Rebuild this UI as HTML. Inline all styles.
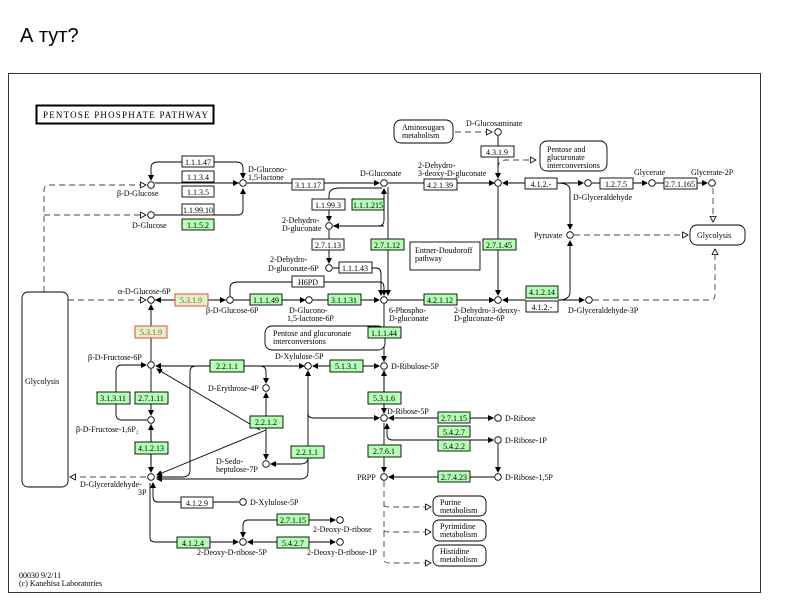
<!DOCTYPE html>
<html><head><meta charset="utf-8"><style>
html,body{margin:0;padding:0;background:#fff;width:800px;height:600px;overflow:hidden}
svg text{font-family:"Liberation Serif",serif;font-size:8px;fill:#000}
</style></head><body>
<svg width="800" height="600" viewBox="0 0 800 600" xmlns="http://www.w3.org/2000/svg">
<defs>
<marker id="a" markerWidth="6" markerHeight="6" refX="5" refY="3" orient="auto" markerUnits="userSpaceOnUse"><path d="M0,0L6,3L0,6z" fill="#000"/></marker>
<marker id="o" markerWidth="7" markerHeight="7" refX="6" refY="3.5" orient="auto" markerUnits="userSpaceOnUse"><path d="M0.5,0.5L6,3.5L0.5,6.5z" fill="#fff" stroke="#000" stroke-width="0.8"/></marker>
</defs>
<text x="20" y="42" style="font-family:'Liberation Sans',sans-serif;font-size:20px">А тут?</text>
<rect x="8.5" y="73.5" width="752" height="519" fill="none" stroke="#333" stroke-width="1"/>
<rect x="36.5" y="105.5" width="177" height="18" fill="#fff" stroke="#000" stroke-width="2"/>
<text x="43" y="118" style="font-size:9px;letter-spacing:1.2px">PENTOSE PHOSPHATE PATHWAY</text>

<g fill="none" stroke="#000" stroke-width="0.9">
<g stroke-dasharray="6,4" stroke="#444">
<path d="M44,292V190Q44,185 50,185H146" marker-end="url(#o)"/>
<path d="M44,215Q44,215 50,215H146" marker-end="url(#o)"/>
<path d="M68,300H146" marker-end="url(#o)"/>
<path d="M146,477H70" marker-end="url(#o)"/>
<path d="M455,132H492" marker-end="url(#o)"/>
<path d="M498,178V168Q498,160 506,160H536" marker-end="url(#o)"/>
<path d="M574,235H688" marker-end="url(#o)"/>
<path d="M713,188V222" marker-end="url(#o)"/>
<path d="M593,300H710Q715,300 715,295V249" marker-end="url(#o)"/>
<path d="M384,481V560Q384,563 390,563H431" marker-end="url(#o)"/>
<path d="M384,505Q384,507 390,507H431" marker-end="url(#o)"/>
<path d="M384,530Q384,532 390,532H431" marker-end="url(#o)"/>
</g>
<path d="M239,183H155" />
<path d="M214,183H238" marker-end="url(#a)"/>
<path d="M182,162H158Q151,162 151,168V180" marker-end="url(#a)"/>
<path d="M214,162H236Q243,162 243,168V178" marker-end="url(#a)"/>
<path d="M155,215H238Q243,215 243,210V189" marker-end="url(#a)"/>
<path d="M247,183H379" marker-end="url(#a)"/>
<path d="M388,183H494" marker-end="url(#a)"/>
<path d="M333,226H378Q384,226 384,220V189" marker-end="url(#a)"/>
<path d="M384,226H334" marker-end="url(#a)"/>
<path d="M329,200V195Q329,188 340,188H382" />
<path d="M329,200V221" marker-end="url(#a)"/>
<path d="M329,230V263" marker-end="url(#a)"/>
<path d="M333,268H376Q381,268 381,274V295" marker-end="url(#a)"/>
<path d="M230,296V288Q230,282 238,282H380Q384,282 384,288V295" marker-end="url(#a)"/>
<path d="M388,187V295" marker-end="url(#a)"/>
<path d="M155,300H226" />
<path d="M210,300H225" marker-end="url(#a)"/>
<path d="M175,300H156" marker-end="url(#a)"/>
<path d="M234,300H305" marker-end="url(#a)"/>
<path d="M313,300H379" marker-end="url(#a)"/>
<path d="M388,300H494" marker-end="url(#a)"/>
<path d="M384,304V361" marker-end="url(#a)"/>
<path d="M498,136V178" marker-end="url(#a)"/>
<path d="M498,187V295" marker-end="url(#a)"/>
<path d="M525,183H503" marker-end="url(#a)"/>
<path d="M557,183H583" marker-end="url(#a)"/>
<path d="M557,183Q570,183 570,190V229" marker-end="url(#a)"/>
<path d="M592,183H647" marker-end="url(#a)"/>
<path d="M656,183H707" marker-end="url(#a)"/>
<path d="M526,300H503" marker-end="url(#a)"/>
<path d="M558,300H584" marker-end="url(#a)"/>
<path d="M558,300Q570,300 570,292V241" marker-end="url(#a)"/>
<path d="M151,361V305" marker-end="url(#a)"/>
<path d="M151,369V415" marker-end="url(#a)"/>
<path d="M151,472V425" marker-end="url(#a)"/>
<path d="M151,424V472" marker-end="url(#a)"/>
<path d="M147,420H122Q116,420 116,414V371Q116,365 122,365H146" marker-end="url(#a)"/>
<path d="M304,366H156" marker-end="url(#a)"/>
<path d="M244,366H304" marker-end="url(#a)"/>
<path d="M196,366Q190,366 190,372V470Q190,477 182,477H157" marker-end="url(#a)"/>
<path d="M244,366H260Q266,366 266,372V383" marker-end="url(#a)"/>
<path d="M266,410V393" marker-end="url(#a)"/>
<path d="M266,410V459" marker-end="url(#a)"/>
<path d="M260,430L157,369" marker-end="url(#a)"/>
<path d="M266,430L157,475" marker-end="url(#a)"/>
<path d="M330,366H313" marker-end="url(#a)"/>
<path d="M362,366H379" marker-end="url(#a)"/>
<path d="M384,370V413" marker-end="url(#a)"/>
<path d="M384,413V371" marker-end="url(#a)"/>
<path d="M308,410V371" marker-end="url(#a)"/>
<path d="M308,410V458Q308,464 300,464H271" marker-end="url(#a)"/>
<path d="M308,410V414Q308,418 314,418H379" marker-end="url(#a)"/>
<path d="M308,450V472Q308,479 300,479H157" marker-end="url(#a)"/>
<path d="M384,423V472" marker-end="url(#a)"/>
<path d="M438,418H389" marker-end="url(#a)"/>
<path d="M470,418H493" marker-end="url(#a)"/>
<path d="M493,440H392Q387,440 387,434V424" marker-end="url(#a)"/>
<path d="M460,440H493" marker-end="url(#a)"/>
<path d="M498,444V472" marker-end="url(#a)"/>
<path d="M494,477H389" marker-end="url(#a)"/>
<path d="M181,502H157Q153,502 153,496V483" marker-end="url(#a)"/>
<path d="M213,502H239"/>
<path d="M150,483V538Q150,542 156,542H238" marker-end="url(#a)"/>
<path d="M277,520H248Q243,520 243,526V537" marker-end="url(#a)"/>
<path d="M309,520H335" marker-end="url(#a)"/>
<path d="M277,542H248" marker-end="url(#a)"/>
<path d="M309,542H335" marker-end="url(#a)"/>
</g>

<g fill="#fff" stroke="#000" stroke-width="0.9">
<circle cx="151" cy="185" r="3.3"/><circle cx="151" cy="215" r="3.3"/><circle cx="243" cy="183" r="3.3"/>
<circle cx="384" cy="183" r="3.3"/><circle cx="329" cy="226" r="3.3"/><circle cx="329" cy="268" r="3.3"/>
<circle cx="151" cy="300" r="3.3"/><circle cx="230" cy="300" r="3.3"/><circle cx="309" cy="300" r="3.3"/>
<circle cx="384" cy="300" r="3.3"/><circle cx="498" cy="132" r="3.3"/><circle cx="498" cy="183" r="3.3"/>
<circle cx="588" cy="183" r="3.3"/><circle cx="652" cy="183" r="3.3"/><circle cx="712" cy="183" r="3.3"/>
<circle cx="570" cy="235" r="3.3"/><circle cx="498" cy="300" r="3.3"/><circle cx="589" cy="300" r="3.3"/>
<circle cx="151" cy="365" r="3.3"/><circle cx="151" cy="420" r="3.3"/><circle cx="151" cy="477" r="3.3"/>
<circle cx="308" cy="366" r="3.3"/><circle cx="266" cy="388" r="3.3"/><circle cx="266" cy="464" r="3.3"/>
<circle cx="384" cy="366" r="3.3"/><circle cx="384" cy="418" r="3.3"/><circle cx="384" cy="477" r="3.3"/>
<circle cx="498" cy="418" r="3.3"/><circle cx="498" cy="440" r="3.3"/><circle cx="498" cy="477" r="3.3"/>
<circle cx="243" cy="502" r="3.3"/><circle cx="340" cy="520" r="3.3"/><circle cx="243" cy="542" r="3.3"/><circle cx="340" cy="542" r="3.3"/>
</g>

<g fill="#fff" stroke="#000" stroke-width="0.9">
<rect x="22" y="292" width="46" height="195" rx="6"/>
<rect x="690" y="225" width="55" height="20" rx="7"/>
<rect x="394" y="120" width="59" height="23" rx="7"/>
<rect x="540" y="141" width="67" height="30" rx="7"/>
<rect x="410" y="242" width="70" height="28"/>
<rect x="265" y="326" width="120" height="24" rx="7"/>
<rect x="433" y="496" width="53" height="20" rx="6"/>
<rect x="433" y="520" width="53" height="21" rx="6"/>
<rect x="433" y="545" width="53" height="21" rx="6"/>
</g>

<g stroke-width="0.9">
<g fill="#fff" stroke="#000">
<rect x="182" y="156" width="32" height="11"/><rect x="182" y="171" width="32" height="11"/><rect x="182" y="186" width="32" height="11"/>
<rect x="182" y="204" width="32" height="11"/><rect x="292" y="179" width="32" height="11"/><rect x="312" y="199" width="33" height="11"/>
<rect x="312" y="239" width="32" height="11"/><rect x="339" y="262" width="33" height="11"/><rect x="292" y="276" width="32" height="11"/>
<rect x="424" y="179" width="33" height="11"/><rect x="481" y="146" width="33" height="11"/><rect x="525" y="178" width="32" height="11"/>
<rect x="600" y="178" width="33" height="11"/><rect x="664" y="178" width="33" height="11"/><rect x="526" y="301" width="32" height="11"/>
<rect x="181" y="497" width="32" height="11"/>
</g>
<g fill="#b3ffb3" stroke="#000">
<rect x="182" y="219" width="32" height="11"/><rect x="352" y="199" width="32" height="11"/><rect x="371" y="239" width="33" height="11"/>
<rect x="250" y="294" width="32" height="11"/><rect x="328" y="294" width="33" height="11"/><rect x="368" y="327" width="33" height="11"/>
<rect x="483" y="239" width="33" height="11"/><rect x="424" y="294" width="33" height="11"/><rect x="526" y="286" width="32" height="12"/>
<rect x="210" y="360" width="34" height="12"/><rect x="97" y="392" width="33" height="12"/><rect x="135" y="392" width="33" height="12"/>
<rect x="250" y="416" width="33" height="12"/><rect x="135" y="442" width="33" height="12"/><rect x="291" y="446" width="33" height="12"/>
<rect x="330" y="360" width="33" height="12"/><rect x="368" y="392" width="33" height="12"/><rect x="438" y="412" width="32" height="11"/>
<rect x="438" y="426" width="32" height="11"/><rect x="438" y="440" width="32" height="11"/><rect x="368" y="445" width="33" height="12"/>
<rect x="438" y="471" width="32" height="11"/><rect x="277" y="514" width="32" height="11"/><rect x="177" y="537" width="33" height="11"/>
<rect x="277" y="537" width="32" height="11"/>
</g>
<g fill="#d8f5c8" stroke="#e33">
<rect x="175" y="294" width="33" height="12"/><rect x="135" y="326" width="32" height="12"/>
</g>
</g>

<g text-anchor="middle">
<text x="198" y="165">1.1.1.47</text><text x="198" y="180">1.1.3.4</text><text x="198" y="195">1.1.3.5</text>
<text x="198" y="213">1.1.99.10</text><text x="198" y="228">1.1.5.2</text><text x="308" y="188">3.1.1.17</text>
<text x="328" y="208">1.1.99.3</text><text x="368" y="208">1.1.1.215</text><text x="328" y="248">2.7.1.13</text>
<text x="355" y="271">1.1.1.43</text><text x="308" y="285">H6PD</text><text x="387" y="248">2.7.1.12</text>
<text x="191" y="303" style="fill:#c33">5.3.1.9</text><text x="266" y="303">1.1.1.49</text><text x="344" y="303">3.1.1.31</text>
<text x="384" y="336">1.1.1.44</text><text x="440" y="188">4.2.1.39</text><text x="497" y="155">4.3.1.9</text>
<text x="541" y="187">4.1.2.-</text><text x="616" y="187">1.2.7.5</text><text x="680" y="187">2.7.1.165</text>
<text x="499" y="248">2.7.1.45</text><text x="440" y="303">4.2.1.12</text><text x="542" y="295">4.1.2.14</text>
<text x="542" y="310">4.1.2.-</text><text x="151" y="335" style="fill:#c33">5.3.1.9</text>
<text x="227" y="369">2.2.1.1</text><text x="113" y="401">3.1.3.11</text><text x="151" y="401">2.7.1.11</text>
<text x="266" y="425">2.2.1.2</text><text x="151" y="451">4.1.2.13</text><text x="307" y="455">2.2.1.1</text>
<text x="346" y="369">5.1.3.1</text><text x="384" y="401">5.3.1.6</text><text x="454" y="421">2.7.1.15</text>
<text x="454" y="435">5.4.2.7</text><text x="454" y="449">5.4.2.2</text><text x="384" y="454">2.7.6.1</text>
<text x="454" y="480">2.7.4.23</text><text x="197" y="506">4.1.2.9</text><text x="293" y="523">2.7.1.15</text>
<text x="193" y="546">4.1.2.4</text><text x="293" y="546">5.4.2.7</text>
</g>

<g>
<text x="117" y="196">β-D-Glucose</text><text x="132" y="228">D-Glucose</text>
<text x="248" y="172">D-Glucono-</text><text x="248" y="180">1,5-lactone</text>
<text x="360" y="176">D-Gluconate</text>
<text x="282" y="223">2-Dehydro-</text><text x="282" y="231">D-gluconate</text>
<text x="270" y="262">2-Dehydro-</text><text x="268" y="271">D-gluconate-6P</text>
<text x="118" y="294">α-D-Glucose-6P</text><text x="206" y="313">β-D-Glucose-6P</text>
<text x="289" y="313">D-Glucono-</text><text x="287" y="321">1,5-lactone-6P</text>
<text x="389" y="313">6-Phospho-</text><text x="389" y="321">D-gluconate</text>
<text x="418" y="168">2-Dehydro-</text><text x="418" y="176">3-deoxy-D-gluconate</text>
<text x="466" y="126">D-Glucosaminate</text>
<text x="573" y="200">D-Glyceraldehyde</text><text x="634" y="175">Glycerate</text><text x="691" y="175">Glycerate-2P</text>
<text x="534" y="238">Pyruvate</text>
<text x="454" y="313">2-Dehydro-3-deoxy-</text><text x="454" y="321">D-gluconate-6P</text>
<text x="568" y="313">D-Glyceraldehyde-3P</text>
<text x="88" y="360">β-D-Fructose-6P</text><text x="76" y="432">β-D-Fructose-1,6P₂</text>
<text x="80" y="487">D-Glyceraldehyde-</text><text x="138" y="495">3P</text>
<text x="275" y="359">D-Xylulose-5P</text><text x="208" y="391">D-Erythrose-4P</text>
<text x="216" y="464">D-Sedo-</text><text x="216" y="472">heptulose-7P</text>
<text x="391" y="369">D-Ribulose-5P</text><text x="387" y="414">D-Ribose-5P</text><text x="357" y="480">PRPP</text>
<text x="505" y="421">D-Ribose</text><text x="505" y="443">D-Ribose-1P</text><text x="505" y="480">D-Ribose-1,5P</text>
<text x="250" y="505">D-Xylulose-5P</text><text x="313" y="532">2-Deoxy-D-ribose</text>
<text x="197" y="555">2-Deoxy-D-ribose-5P</text><text x="307" y="555">2-Deoxy-D-ribose-1P</text>
<text x="25" y="384">Glycolysis</text><text x="697" y="238">Glycolysis</text>
<text x="402" y="130">Aminosugars</text><text x="402" y="138">metabolism</text>
<text x="547" y="152">Pentose and</text><text x="547" y="160">glucuronate</text><text x="547" y="168">interconversions</text>
<text x="415" y="253">Entner-Doudoroff</text><text x="415" y="261">pathway</text>
<text x="273" y="336">Pentose and glucuronate</text><text x="273" y="344">interconversions</text>
<text x="440" y="505">Purine</text><text x="440" y="513">metabolism</text>
<text x="440" y="529">Pyrimidine</text><text x="440" y="537">metabolism</text>
<text x="440" y="554">Histidine</text><text x="440" y="562">metabolism</text>
<text x="19" y="578">00030 9/2/11</text><text x="19" y="586">(c) Kanehisa Laboratories</text>
</g>
</svg>
</body></html>
